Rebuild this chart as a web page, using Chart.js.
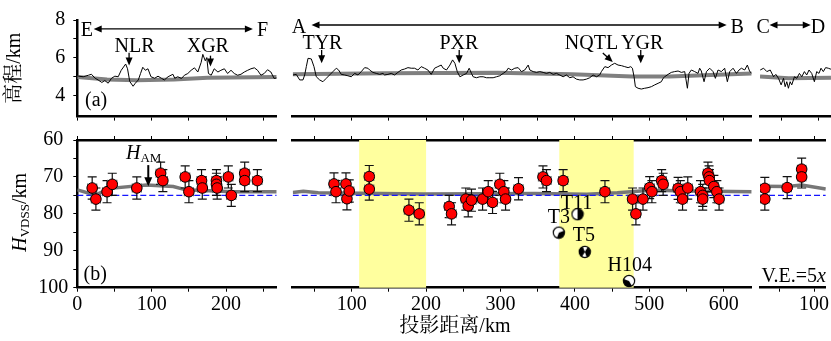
<!DOCTYPE html>
<html lang="zh">
<head>
<meta charset="UTF-8">
<title>H_VDSS profiles</title>
<script src="https://cdn.jsdelivr.net/npm/chart.js"></script>
<style>
  body { margin: 0; background: #fff; }
  #wrap { position: relative; width: 831px; height: 341px; overflow: hidden; }
  #wrap canvas { position: absolute; left: 0; top: 0; }
</style>
</head>
<body>
<div id="wrap">
  <canvas id="tEF" width="831" height="341"></canvas>
  <canvas id="tAB" width="831" height="341"></canvas>
  <canvas id="tCD" width="831" height="341"></canvas>
  <canvas id="bEF" width="831" height="341"></canvas>
  <canvas id="bAB" width="831" height="341"></canvas>
  <canvas id="bCD" width="831" height="341"></canvas>
</div>
<script>
// ---- data: elevation profiles [km, km a.s.l.] ----
const elevEF = [[0,5.1],[1.4,5.04],[8,5.01],[15,5.09],[19,5.14],[24,4.93],[28,4.84],[33,4.71],[37,4.81],[41.5,4.67],
  [46,4.93],[50.5,5.04],[55,5.01],[59,5.35],[65,5.68],[67.5,5.43],[70.5,4.76],[75,4.51],[78,4.67],[82,4.84],
  [85,5.18],[88,5.51],[91.5,5.35],[95,5.43],[99,5.01],[104,4.93],[108.5,5.04],[113,4.93],[117,4.84],[122,5.01],
  [128.5,5.14],[131,4.93],[135,5.01],[140,4.92],[144,5.09],[148.5,5.18],[153,5.35],[157.5,5.48],[162,5.26],[166.5,5.77],
  [168.7,6.19],[172,5.85],[174,6.02],[176.3,5.18],[180,5.09],[184,5.43],[189,5.26],[193,5.35],[197.7,5.43],[202,5.18],
  [206.6,5.35],[211,5.18],[215.5,5.09],[220,5.14],[224.5,5.26],[229,5.35],[233.4,5.43],[238,5.48],[242.3,5.35],[246.8,5.09],
  [251.2,5.18],[255.7,5.38],[260.2,5.26],[264.6,4.92],[268,4.95]];
const elevAB = [[21.1,5.01],[25.5,5.04],[30.1,4.76],[34.5,4.76],[36.8,5.01],[39,5.43],[41.3,5.85],[45.7,5.82],[49.3,5.43],[52.4,4.92],
  [56.9,4.76],[61.3,4.67],[65.8,4.84],[70.3,5.01],[74.8,5.18],[79.3,5.35],[82.4,5.26],[86,5.04],[90.5,5.01],[94.9,4.97],
  [99.4,4.92],[104,5.09],[108.4,5.01],[112.9,5.18],[117.4,5.38],[121.8,5.35],[124.1,5.26],[128.5,5.14],[133,5.09],[137.6,5.04],
  [142,5.09],[144.2,5.01],[148.7,5.04],[153.2,5.09],[157.6,5.01],[162.1,5.14],[166.5,5.26],[171.1,5.31],[175.6,5.38],[180,5.35],
  [184.5,5.35],[189,5.26],[193.4,5.43],[197.9,5.35],[202.4,5.26],[206.9,5.04],[211.4,5.35],[215.8,5.43],[220.3,5.51],[223,5.35],
  [227.4,5.26],[232,5.51],[235.6,5.77],[238.7,5.6],[241.9,5.18],[245.4,4.92],[249.9,5.01],[254.4,5.09],[257.9,5.35],[261,5.09],
  [263.2,4.92],[267.7,4.87],[272.3,4.92],[276.7,4.92],[281.2,4.87],[285.7,4.87],[290.1,4.87],[294.6,4.92],[299.1,4.97],[303.6,5.09],
  [308.1,5.21],[310.3,5.35],[314.8,5.26],[319.2,5.35],[323.7,5.38],[328.2,5.18],[332.6,5.26],[337.2,5.51],[339.4,5.26],[343.9,5.18],
  [348.4,5.14],[352.8,5.18],[357.3,5.14],[361.8,5.09],[366.2,5.14],[370.8,5.04],[375.2,5.09],[379.7,5.01],[384.2,4.92],[388.6,5.01],
  [393.1,4.87],[397.5,4.92],[402,4.8],[406.6,4.76],[411,4.76],[415.5,4.8],[420,4.87],[424.4,5.01],[429,4.92],[433.3,5.01],
  [435.6,5.18],[440.2,5.43],[444.6,5.38],[449.1,5.51],[453.5,5.6],[458,5.51],[462.5,5.48],[467,5.43],[471.5,5.38],[475.1,5.43],
  [477.3,5.35],[479.5,4.92],[481.3,4.42],[484.9,4.34],[489.3,4.3],[493.8,4.34],[498.3,4.37],[502.8,4.42],[507.3,4.51],[511.8,4.59],
  [516.2,4.67],[518.5,4.84],[520.7,4.92],[525.2,5.04],[529.6,5.14],[534.1,5.18],[538.7,5.21],[543.1,5.14],[547.6,5.18],[551.2,4.34],
  [553.4,5.09],[556.5,5.26],[561,5.18],[565.5,5.09],[567.7,5.35],[569.9,5.21],[573.6,4.67],[576.8,5.18],[581.2,5.35],[585.7,5.18],
  [588.8,4.84],[592.4,5.26],[596.9,5.18],[601.3,5.35],[604.9,4.67],[608.1,5.18],[612.6,5.35],[617.1,5.09],[620.6,5.26],[623.8,5.35],
  [628.2,5.26],[631.8,5.51],[635,5.18],[637.6,5.1]];
const elevCD = [[21.9,5.26],[26.4,5.35],[30.8,5.18],[35.3,5.26],[39.8,4.92],[42.9,5.04],[46.5,4.84],[50,4.51],[53.2,4.84],[55.4,4.42],
  [57.6,4.67],[59.8,4.34],[62.1,4.67],[64.3,4.51],[67.9,4.92],[71,4.84],[74.6,5.09],[77.7,4.92],[81.3,5.18],[84.4,5.01],
  [87.5,5.26],[91.1,5.09],[94.7,4.67],[97.8,5.18],[100.9,5.09],[103.6,5.35],[106.7,5.18],[109.8,5.38],[113.4,5.35],[117,5.3]];

// smoothed elevation (grey band)
const smoothEF = [[0,5.0],[40,4.87],[80,4.82],[130,4.86],[175,4.96],[268,5.0]];
const smoothAB = [[20.7,5.05],[145,5.1],[296,5.12],[396,5.05],[477,4.93],[527,4.93],[637.6,5.08]];
const smoothCD = [[21.6,4.93],[60,4.84],[117,4.87]];

// ---- data: H_VDSS measurements [km, depth km] ----
const hEF = [[20,73],[25,76],[40,74],[47,72],[80,73],[112,69],[115,71],[145,70],[150,74],[167,71],
  [168,73],[187,71],[187,72],[188,73],[203,70],[207,75],[225,69],[225,71],[242,71]];
const hAB = [[76.2,71.9],[78.9,74],[92.3,71.9],[93.6,75.9],[96.7,73.8],[123.6,69.9],[123.6,73.3],[176.9,79],[190.8,80],[231,78],
  [234.2,80],[253.4,76],[256.6,77.8],[261,76.3],[275.9,76],[283.5,74],[289.3,76.9],[299.1,72],[304.5,74],[306.8,76],
  [324.2,73.2],[357.1,70],[361.8,71],[384.2,71],[440.4,74],[477.5,76],[482,80],[491.5,76],[500.5,72.9],[503.5,74],
  [516.6,71],[518.6,72],[538.7,73.1],[541.7,74],[544.7,76],[551.7,73],[568.8,74],[571.8,75],[571.8,76],[578.8,69],
  [580.3,70],[580.8,71],[586.8,72.6],[590.8,74],[593.8,76]];
const hCD = [[28.6,73.1],[28.6,76],[61,72.9],[82,67.9],[82,70]];
const errDepth = 3;   // km, vertical error
const errDist = 6;    // km, horizontal error

// H_AM model (grey line)
const amEF = [[0,73.5],[24,74.9],[44,73.1],[93,72.2],[129,72.6],[146,73.5],[209,74],[268,74]];
const amAB = [[20.7,74.2],[35,73.9],[55,74.3],[196,74.6],[346,74.5],[416,74.7],[457,74.3],[502,73.6],[557,73.8],[637.6,74]];
const amCD = [[21.6,72.5],[61,72.6],[82,72.2],[117,73.3]];
const refDepth = 75;  // blue dashed reference

// focal mechanisms T3, T11, T5, H104
const fmEvents = [[378.4,85.1],[403.5,80.1],[413.3,90.3],[472.8,98.2]];

// yellow bands along A-B [km from, km to]
const bandsAB = [[110,200],[379,479]];

// ticks
const kmTicksEF = [0,50,100,150,200,250];
const kmTicksAB = [50,100,150,200,250,300,350,400,450,500,550,600];
const kmTicksCD = [50,100];
const kmLabels = [0,100,200,300,400,500,600];
const elevTicks = [4,5,6,7,8];
const elevLabels = [4,6,8];
const depthTicks = [60,65,70,75,80,85,90,95,100];
const depthLabels = [60,70,80,90,100];

// ---- layout ----
const W = 831, H = 341;
const KM_PX = 0.744;
const SERIF = '"Liberation Serif", "Noto Serif CJK SC", "Noto Sans CJK SC", serif';
const COLS = {
  EF: { left: 77.3, min: 0, max: 268, ticks: kmTicksEF },
  AB: { left: 292.7, min: 20.7, max: 637.6, ticks: kmTicksAB },
  CD: { left: 760, min: 21.6, max: 117, ticks: kmTicksCD }
};
const ROW_TOP = { top: 15.7, bottom: 116.6 };
const ROW_BOT = { top: 140, bottom: 287.7 };

Chart.defaults.font.family = SERIF;
Chart.defaults.font.size = 20;
Chart.defaults.color = '#000';

const pts = arr => arr.map(p => ({ x: p[0], y: p[1] }));

// small beach ball images
function ball(wedges) {
  const c = document.createElement('canvas');
  c.width = c.height = 14;
  const g = c.getContext('2d');
  const r = 5.6, cx = 7, cy = 7;
  g.fillStyle = '#fff';
  g.beginPath(); g.arc(cx, cy, r, 0, 2 * Math.PI); g.fill();
  g.fillStyle = '#000';
  wedges.forEach(w => {
    g.beginPath(); g.moveTo(cx, cy);
    g.arc(cx, cy, r, w[0] * Math.PI / 180, w[1] * Math.PI / 180);
    g.closePath(); g.fill();
  });
  g.strokeStyle = '#000'; g.lineWidth = 1.2;
  g.beginPath(); g.arc(cx, cy, r, 0, 2 * Math.PI); g.stroke();
  return c;
}
const ballStyles = [ball([[-20, 110]]), ball([[-90, 90]]), ball([[120, 250], [300, 430]]), ball([[60, 200]])];

// ---- text / arrow helpers ----
function richText(ctx, x, y, parts, align) {
  const fonts = { n: '20px ' + SERIF, i: 'italic 20px ' + SERIF, s: '13px ' + SERIF };
  let total = 0;
  parts.forEach(p => { ctx.font = fonts[p[1]]; total += ctx.measureText(p[0]).width; });
  let cx = align === 'center' ? x - total / 2 : (align === 'right' ? x - total : x);
  ctx.textAlign = 'left';
  ctx.textBaseline = 'middle';
  parts.forEach(p => {
    ctx.font = fonts[p[1]];
    ctx.fillText(p[0], cx, y + (p[1] === 's' ? 5 : 0));
    cx += ctx.measureText(p[0]).width;
  });
}

function arrow(ctx, x1, y1, x2, y2, both, lw, hl, hw) {
  const a = Math.atan2(y2 - y1, x2 - x1);
  const head = (x, y, ang) => {
    const c = Math.cos(ang), s = Math.sin(ang);
    ctx.beginPath();
    ctx.moveTo(x, y);
    ctx.lineTo(x - hl * c + hw * s, y - hl * s - hw * c);
    ctx.lineTo(x - hl * c - hw * s, y - hl * s + hw * c);
    ctx.closePath(); ctx.fill();
  };
  ctx.lineWidth = lw;
  ctx.beginPath();
  ctx.moveTo(both ? x1 + hl * 0.7 * Math.cos(a) : x1, both ? y1 + hl * 0.7 * Math.sin(a) : y1);
  ctx.lineTo(x2 - hl * 0.7 * Math.cos(a), y2 - hl * 0.7 * Math.sin(a));
  ctx.stroke();
  head(x2, y2, a);
  if (both) head(x1, y1, a + Math.PI);
}

// annotations in data coordinates of each panel
const NOTES = {
  tEF: [
    { k: 't', x: 13, y: 7.41, s: 'E' }, { k: 't', x: 249, y: 7.41, s: 'F' },
    { k: 'a', x1: 22, y1: 7.53, x2: 236, y2: 7.53, both: true },
    { k: 't', x: 77, y: 6.58, s: 'NLR' }, { k: 'a', x1: 69.6, y1: 6.27, x2: 69.6, y2: 5.6 },
    { k: 't', x: 175.4, y: 6.58, s: 'XGR' }, { k: 'a', x1: 179, y1: 6.12, x2: 179, y2: 5.55 },
    { k: 't', x: 25.3, y: 3.72, s: '(a)' },
    { k: 'r', x: -83.7, y: 5.46, parts: [['高程/km', 'n']], rot: true }
  ],
  tAB: [
    { k: 't', x: 29, y: 7.41, s: 'A' }, { k: 't', x: 618, y: 7.41, s: 'B' },
    { k: 'a', x1: 46, y1: 7.53, x2: 604, y2: 7.53, both: true },
    { k: 't', x: 60.7, y: 6.58, s: 'TYR' }, { k: 'a', x1: 59.6, y1: 6.27, x2: 59.6, y2: 5.6 },
    { k: 't', x: 244, y: 6.58, s: 'PXR' }, { k: 'a', x1: 244.5, y1: 6.27, x2: 244.5, y2: 5.6 },
    { k: 't', x: 422.3, y: 6.58, s: 'NQTL' }, { k: 'a', x1: 437.5, y1: 6.12, x2: 450.9, y2: 5.67 },
    { k: 't', x: 490.5, y: 6.58, s: 'YGR' }, { k: 'a', x1: 488.5, y1: 6.27, x2: 488.5, y2: 5.6 }
  ],
  tCD: [
    { k: 't', x: 26, y: 7.41, s: 'C' }, { k: 't', x: 99.6, y: 7.41, s: 'D' },
    { k: 'a', x1: 34.4, y1: 7.53, x2: 89.8, y2: 7.53, both: true }
  ],
  bEF: [
    { k: 't', x: 24, y: 96.6, s: '(b)' },
    { k: 'r', x: 65.5, y: 63.6, parts: [['H', 'i'], ['AM', 's']], align: 'left' },
    { k: 'a', x1: 95.4, y1: 66.8, x2: 95.4, y2: 72.5, lw: 2, hl: 9, hw: 4 },
    { k: 'r', x: -75.7, y: 79.6, parts: [['H', 'i'], ['VDSS', 's'], ['/km', 'n']], rot: true }
  ],
  bAB: [
    { k: 't', x: 402.2, y: 77.2, s: 'T11' }, { k: 't', x: 378.6, y: 81, s: 'T3' },
    { k: 't', x: 412, y: 86, s: 'T5' }, { k: 't', x: 473.7, y: 94.1, s: 'H104' },
    { k: 'r', x: 238.7, y: 110.7, parts: [['投影距离/km', 'n']] }
  ],
  bCD: [
    { k: 'r', x: 23.9, y: 96.9, parts: [['V.E.=5', 'n'], ['x', 'i']], align: 'left' }
  ]
};
const BANDS = { bAB: bandsAB };

const notesPlugin = {
  id: 'notes',
  afterDraw(chart) {
    const items = NOTES[chart.canvas.id];
    if (!items) return;
    const ctx = chart.ctx, xs = chart.scales.x, ys = chart.scales.y;
    ctx.save();
    ctx.fillStyle = '#000'; ctx.strokeStyle = '#000';
    items.forEach(it => {
      if (it.k === 't') {
        ctx.font = '20px ' + SERIF;
        ctx.textAlign = 'center'; ctx.textBaseline = 'middle';
        ctx.fillText(it.s, xs.getPixelForValue(it.x), ys.getPixelForValue(it.y));
      } else if (it.k === 'a') {
        arrow(ctx, xs.getPixelForValue(it.x1), ys.getPixelForValue(it.y1),
          xs.getPixelForValue(it.x2), ys.getPixelForValue(it.y2),
          it.both, it.lw || 1.3, it.hl || 8, it.hw || 3.5);
      } else if (it.k === 'r') {
        const px = xs.getPixelForValue(it.x), py = ys.getPixelForValue(it.y);
        if (it.rot) {
          ctx.save(); ctx.translate(px, py); ctx.rotate(-Math.PI / 2);
          richText(ctx, 0, 0, it.parts, 'center');
          ctx.restore();
        } else {
          richText(ctx, px, py, it.parts, it.align || 'center');
        }
      }
    });
    ctx.restore();
  }
};

const bandsPlugin = {
  id: 'bands',
  beforeDatasetsDraw(chart) {
    const b = BANDS[chart.canvas.id];
    if (!b) return;
    const { ctx, chartArea } = chart, xs = chart.scales.x;
    ctx.save();
    ctx.fillStyle = '#ffff9e';
    b.forEach(r => {
      const x1 = xs.getPixelForValue(r[0]), x2 = xs.getPixelForValue(r[1]);
      ctx.fillRect(x1, chartArea.top, x2 - x1, chartArea.bottom - chartArea.top);
    });
    ctx.restore();
  }
};

// error bars drawn just before the point dataset
const errorBars = {
  id: 'errorBars',
  beforeDatasetDraw(chart, args) {
    const ds = chart.data.datasets[args.index];
    if (!ds.errY) return;
    const ctx = chart.ctx, xs = chart.scales.x, ys = chart.scales.y;
    ctx.save();
    args.meta.data.forEach((el, i) => {
      const p = ds.data[i];
      const x1 = xs.getPixelForValue(p.x - ds.errX), x2 = xs.getPixelForValue(p.x + ds.errX);
      const y1 = ys.getPixelForValue(p.y - ds.errY), y2 = ys.getPixelForValue(p.y + ds.errY);
      ctx.strokeStyle = '#666'; ctx.lineWidth = 1.3;
      ctx.beginPath();
      ctx.moveTo(x1, el.y); ctx.lineTo(x2, el.y);
      ctx.moveTo(x1, el.y - 4.5); ctx.lineTo(x1, el.y + 4.5);
      ctx.moveTo(x2, el.y - 4.5); ctx.lineTo(x2, el.y + 4.5);
      ctx.stroke();
      ctx.strokeStyle = '#111'; ctx.lineWidth = 1.2;
      ctx.beginPath();
      ctx.moveTo(el.x, y1); ctx.lineTo(el.x, y2);
      ctx.moveTo(el.x - 4.5, y1); ctx.lineTo(el.x + 4.5, y1);
      ctx.moveTo(el.x - 4.5, y2); ctx.lineTo(el.x + 4.5, y2);
      ctx.stroke();
    });
    ctx.restore();
  }
};

Chart.register(notesPlugin, bandsPlugin, errorBars);

// ---- axes ----
// scale boxes are sized to the full margin so that their labels are not clipped
const gridOpts = { drawOnChartArea: false, drawTicks: true, tickLength: 4, color: '#000', lineWidth: 1 };
const borderOpts = { display: true, width: 2.5, color: '#000' };

function axisX(col, pos, labels, boxH) {
  return {
    type: 'linear', position: pos, min: col.min, max: col.max,
    afterFit: s => { s.height = boxH; },
    afterBuildTicks: s => { s.ticks = col.ticks.map(v => ({ value: v })); },
    grid: gridOpts, border: borderOpts,
    ticks: { autoSkip: false, maxRotation: 0, minRotation: 0, padding: 1,
      callback: v => (labels && kmLabels.includes(v)) ? String(v) : '' }
  };
}

function axisY(show, min, max, reverse, ticks, labels, pad, boxW) {
  if (!show) return { type: 'linear', display: false, min, max, reverse };
  return {
    type: 'linear', position: 'left', min, max, reverse,
    afterFit: s => { s.width = boxW; },
    afterBuildTicks: s => { s.ticks = ticks.map(v => ({ value: v })); },
    grid: gridOpts, border: borderOpts,
    ticks: { crossAlign: 'center', padding: pad, autoSkip: false,
      callback: v => labels.includes(v) ? String(v) : '' }
  };
}

function makeChart(id, col, row, scales, datasets, yShown, xLabelled) {
  const right = col.left + (col.max - col.min) * KM_PX;
  return new Chart(document.getElementById(id), {
    type: 'scatter',
    data: { datasets },
    options: {
      responsive: false, animation: false, events: [],
      layout: { autoPadding: false,
        padding: { left: yShown ? 0 : col.left, right: W - right, top: row.top,
          bottom: xLabelled ? 0 : H - row.bottom } },
      plugins: { legend: { display: false }, tooltip: { enabled: false } },
      scales
    }
  });
}

// ---- top row: elevation ----
function elevSets(profile, smooth) {
  return [
    { data: pts(profile), showLine: true, borderColor: '#000', borderWidth: 1, pointRadius: 0, order: 0 },
    { data: pts(smooth), showLine: true, borderColor: '#808080', borderWidth: 4, pointRadius: 0, order: 1 }
  ];
}
[['tEF', COLS.EF, elevEF, smoothEF, true], ['tAB', COLS.AB, elevAB, smoothAB, false], ['tCD', COLS.CD, elevCD, smoothCD, false]]
  .forEach(([id, col, prof, sm, first]) => {
    makeChart(id, col, ROW_TOP,
      { x: axisX(col, 'bottom', false, 0), y: axisY(first, 2.91, 8, false, elevTicks, elevLabels, 8, col.left) },
      elevSets(prof, sm), first, false);
  });

// ---- bottom row: H_VDSS ----
function depthSets(col, meas, model, withBalls) {
  const sets = [
    { data: pts(meas), showLine: false, pointRadius: 5.3, pointBackgroundColor: '#ff0000',
      pointBorderColor: '#000', pointBorderWidth: 1, errX: errDist, errY: errDepth, order: 1 },
    { data: [{ x: col.min, y: refDepth }, { x: col.max, y: refDepth }], showLine: true, borderColor: '#1515ff',
      borderWidth: 1.3, borderDash: [6, 3], pointRadius: 0, order: 2 },
    { data: pts(model), showLine: true, borderColor: '#777777', borderWidth: 3.5, pointRadius: 0, order: 3 }
  ];
  if (withBalls) {
    sets.push({ data: pts(fmEvents), showLine: false, pointStyle: ballStyles, pointRadius: 6, order: 0 });
  }
  return sets;
}
[['bEF', COLS.EF, hEF, amEF, true, false], ['bAB', COLS.AB, hAB, amAB, false, true], ['bCD', COLS.CD, hCD, amCD, false, false]]
  .forEach(([id, col, meas, model, first, balls]) => {
    makeChart(id, col, ROW_BOT,
      { x: axisX(col, 'bottom', true, H - ROW_BOT.bottom), x2: axisX(col, 'top', false, 0),
        y: axisY(first, 60, 100, true, depthTicks, depthLabels, 5, col.left) },
      depthSets(col, meas, model, balls), first, true);
  });
</script>
</body>
</html>
